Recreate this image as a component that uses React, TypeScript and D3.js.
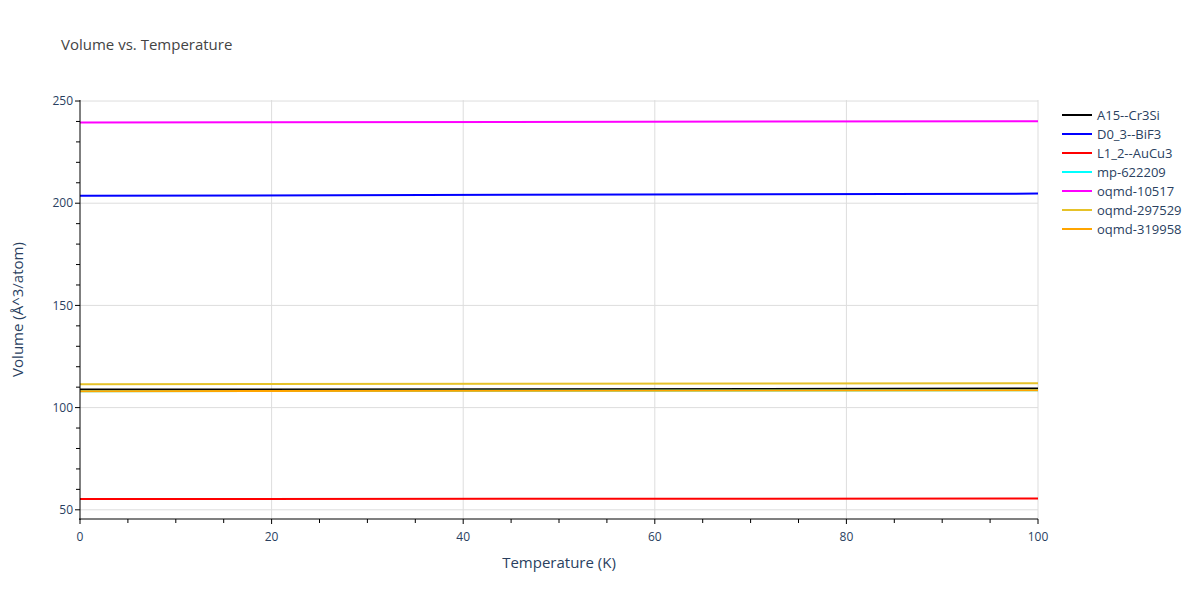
import React, { useEffect, useRef } from "react";
import * as d3 from "d3";

// temperatures (K) and volumes (Å^3/atom) at the two ends of each curve
const temps = [0, 100];
const seriesNames = [
  "A15--Cr3Si",
  "D0_3--BiF3",
  "L1_2--AuCu3",
  "mp-622209",
  "oqmd-10517",
  "oqmd-297529",
  "oqmd-319958",
];
const seriesColors = ["#000000", "#0000ff", "#ff0000", "#00ffff", "#ff00ff", "#e6c229", "#ffa500"];
const a15Vol = [108.8, 109.3];
const d03Vol = [203.6, 204.7];
const l12Vol = [55.3, 55.5];
const mpVol = [108.0, 108.5];
const oqmd10517Vol = [239.5, 240.1];
const oqmd297529Vol = [111.4, 111.9];
const oqmd319958Vol = [108.0, 108.5];
const allVols = [a15Vol, d03Vol, l12Vol, mpVol, oqmd10517Vol, oqmd297529Vol, oqmd319958Vol];

const xTicks = [0, 20, 40, 60, 80, 100];
const yTicks = [50, 100, 150, 200, 250];

const App = () => {
  const ref = useRef<SVGSVGElement>(null);

  useEffect(() => {
    const svg = d3.select(ref.current);
    svg.selectAll("*").remove();
    const left = 80, right = 1038, top = 100, bottom = 519;
    const font = "'Open Sans', sans-serif";
    const textColor = "#2a3f5f";

    const x = d3.scaleLinear().domain([0, 100]).range([left, right]);
    const y = d3.scaleLinear().domain([45.5, 250.5]).range([bottom, top]);

    svg.append("rect").attr("width", 1200).attr("height", 600).attr("fill", "#fff");

    // grid
    svg.selectAll(".vg").data(xTicks.filter(t => t > 0)).enter().append("line")
      .attr("x1", d => x(d)).attr("x2", d => x(d)).attr("y1", top).attr("y2", bottom)
      .attr("stroke", "#dddddd").attr("stroke-width", 1);
    svg.selectAll(".hg").data(yTicks).enter().append("line")
      .attr("x1", left).attr("x2", right).attr("y1", d => y(d)).attr("y2", d => y(d))
      .attr("stroke", "#dddddd").attr("stroke-width", 1);

    // lines
    const line = d3.line<number>().x((_, i) => x(temps[i])).y(d => y(d));
    allVols.forEach((vals, i) => {
      svg.append("path").attr("d", line(vals)).attr("fill", "none")
        .attr("stroke", seriesColors[i]).attr("stroke-width", 2);
    });

    // axes
    const xAxis = svg.append("g").attr("transform", `translate(0,${bottom})`);
    xAxis.append("line").attr("x1", left - 1).attr("x2", right).attr("stroke", "#000");
    xAxis.selectAll(".mt").data(d3.range(0, 101, 5)).enter().append("line")
      .attr("x1", d => x(d)).attr("x2", d => x(d)).attr("y1", 0).attr("y2", d => (d % 20 === 0 ? 5 : 4))
      .attr("stroke", "#000");
    xAxis.selectAll(".tl").data(xTicks).enter().append("text")
      .attr("x", d => x(d)).attr("y", 22).attr("text-anchor", "middle")
      .attr("font-family", font).attr("font-size", 12).attr("fill", textColor)
      .text(d => d);

    const yAxis = svg.append("g").attr("transform", `translate(${left},0)`);
    yAxis.append("line").attr("y1", top).attr("y2", bottom + 1).attr("stroke", "#000");
    yAxis.selectAll(".mt").data(d3.range(50, 251, 10)).enter().append("line")
      .attr("y1", d => y(d)).attr("y2", d => y(d)).attr("x1", 0).attr("x2", d => (d % 50 === 0 ? -5 : -4))
      .attr("stroke", "#000");
    yAxis.selectAll(".tl").data(yTicks).enter().append("text")
      .attr("x", -7).attr("y", d => y(d)).attr("dy", "0.35em").attr("text-anchor", "end")
      .attr("font-family", font).attr("font-size", 12).attr("fill", textColor)
      .text(d => d);

    // titles
    svg.append("text").attr("x", 61).attr("y", 50).attr("font-family", font).attr("font-size", 15)
      .attr("fill", "#444").text("Volume vs. Temperature");
    svg.append("text").attr("x", (left + right) / 2).attr("y", 568).attr("text-anchor", "middle")
      .attr("font-family", font).attr("font-size", 15).attr("fill", textColor).text("Temperature (K)");
    svg.append("text").attr("transform", `translate(23,${(top + bottom) / 2}) rotate(-90)`)
      .attr("text-anchor", "middle").attr("font-family", font).attr("font-size", 15)
      .attr("fill", textColor).text("Volume (Å^3/atom)");

    // legend
    const lg = svg.append("g").attr("transform", "translate(1062,115)");
    seriesNames.forEach((name, i) => {
      const row = lg.append("g").attr("transform", `translate(0,${i * 19})`);
      row.append("line").attr("x1", 0).attr("x2", 30).attr("stroke", seriesColors[i]).attr("stroke-width", 2);
      row.append("text").attr("x", 35).attr("dy", "0.35em").attr("font-family", font)
        .attr("font-size", 13).attr("fill", textColor).text(name);
    });
  }, []);

  return (
    <svg
      ref={ref}
      width={1200}
      height={600}
      style={{ display: "block", position: "absolute", left: 0, top: 0 }}
    />
  );
};

export default App;
